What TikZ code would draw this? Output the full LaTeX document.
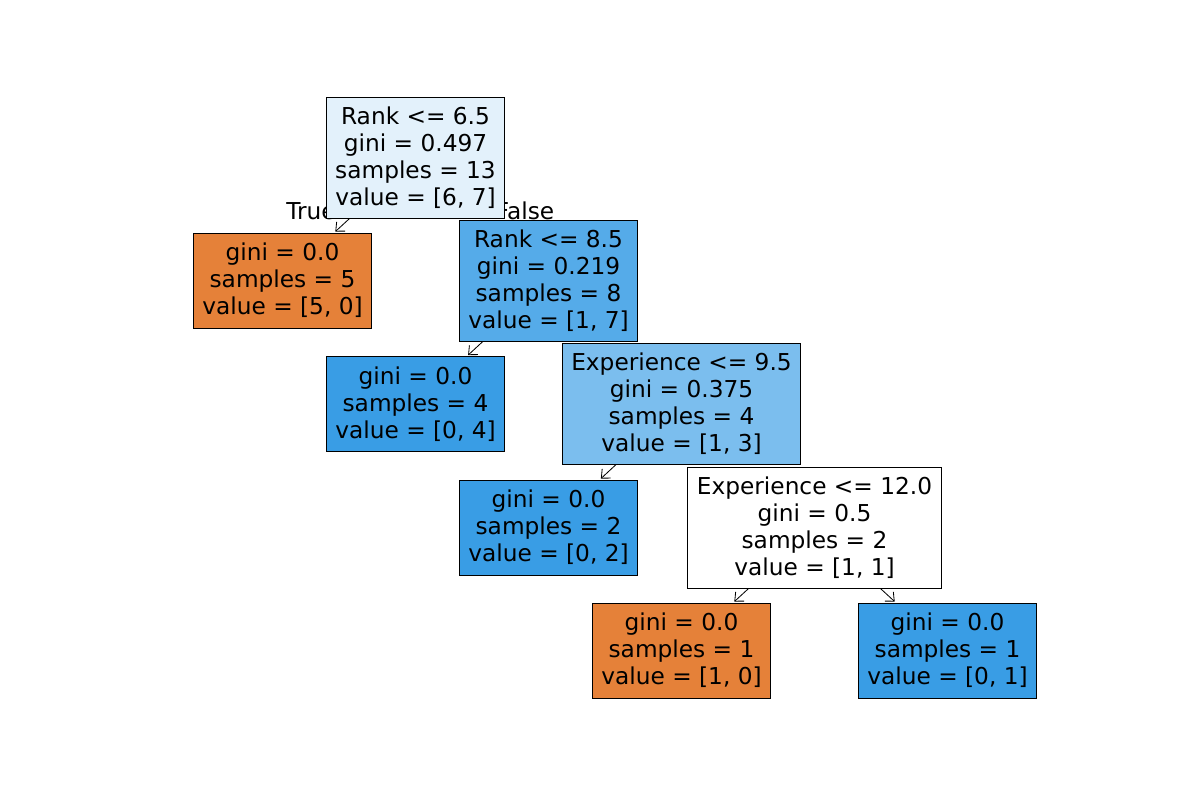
\documentclass[tikz,border=0pt]{standalone}
\usepackage{fontspec}
\setmainfont{DejaVu Sans}
\usepackage{xcolor}
\usepackage{tikz}
\usetikzlibrary{arrows.meta}

\definecolor{leafOrange}{RGB}{229,129,57}
\definecolor{leafBlue}{RGB}{57,157,229}
\definecolor{rootBlue}{RGB}{227,241,251}
\definecolor{midBlue}{RGB}{85,171,233}
\definecolor{paleBlue}{RGB}{123,190,238}

\tikzset{
  treebox/.style={draw=black, line width=0.6pt, align=center, inner xsep=6.5pt,
    font=\fontsize{16.8}{19.4}\selectfont},
  splitbox/.style={treebox, minimum height=1.21in},
  leafbox/.style={treebox, minimum height=0.95in},
  branch/.style={line width=0.6pt, -{Straight Barb[length=5pt,width=9pt]}, shorten >=1pt},
  branchlabel/.style={font=\fontsize{16.8}{19.4}\selectfont}
}

\begin{document}
\begin{tikzpicture}[x=0.01in,y=-0.01in]
\useasboundingbox (0,0) rectangle (1200,800);

% Branch labels (boxes are drawn over them)
\node[branchlabel] (lblTrue) at (311,211) {True};
\node[branchlabel] (lblFalse) at (525,211) {False};

% Root split
\node[splitbox, fill=rootBlue] (root) at (415.5,157.5)
  {Rank <= 6.5\\gini = 0.497\\samples = 13\\value = [6, 7]};

% Depth 1
\node[leafbox, fill=leafOrange] (leafA) at (282.5,280.5)
  {gini = 0.0\\samples = 5\\value = [5, 0]};
\node[splitbox, fill=midBlue] (rankB) at (548.5,280.5)
  {Rank <= 8.5\\gini = 0.219\\samples = 8\\value = [1, 7]};

% Depth 2
\node[leafbox, fill=leafBlue] (leafC) at (415.5,404)
  {gini = 0.0\\samples = 4\\value = [0, 4]};
\node[splitbox, fill=paleBlue] (expD) at (681.5,403.5)
  {Experience <= 9.5\\gini = 0.375\\samples = 4\\value = [1, 3]};

% Depth 3
\node[leafbox, fill=leafBlue] (leafE) at (548.5,527.5)
  {gini = 0.0\\samples = 2\\value = [0, 2]};
\node[splitbox, fill=white] (expF) at (814.5,527.5)
  {Experience <= 12.0\\gini = 0.5\\samples = 2\\value = [1, 1]};

% Depth 4
\node[leafbox, fill=leafOrange] (leafG) at (681.5,650.5)
  {gini = 0.0\\samples = 1\\value = [1, 0]};
\node[leafbox, fill=leafBlue] (leafH) at (947.5,650.5)
  {gini = 0.0\\samples = 1\\value = [0, 1]};

% Branches (the right-hand ones touch their child box and show no arrow)
\draw[branch] (root) -- (leafA);
\draw[branch] (rankB) -- (leafC);
\draw[branch] (expD) -- (leafE);
\draw[branch] (expF) -- (leafG);
\draw[branch] (expF) -- (leafH);

\end{tikzpicture}
\end{document}
